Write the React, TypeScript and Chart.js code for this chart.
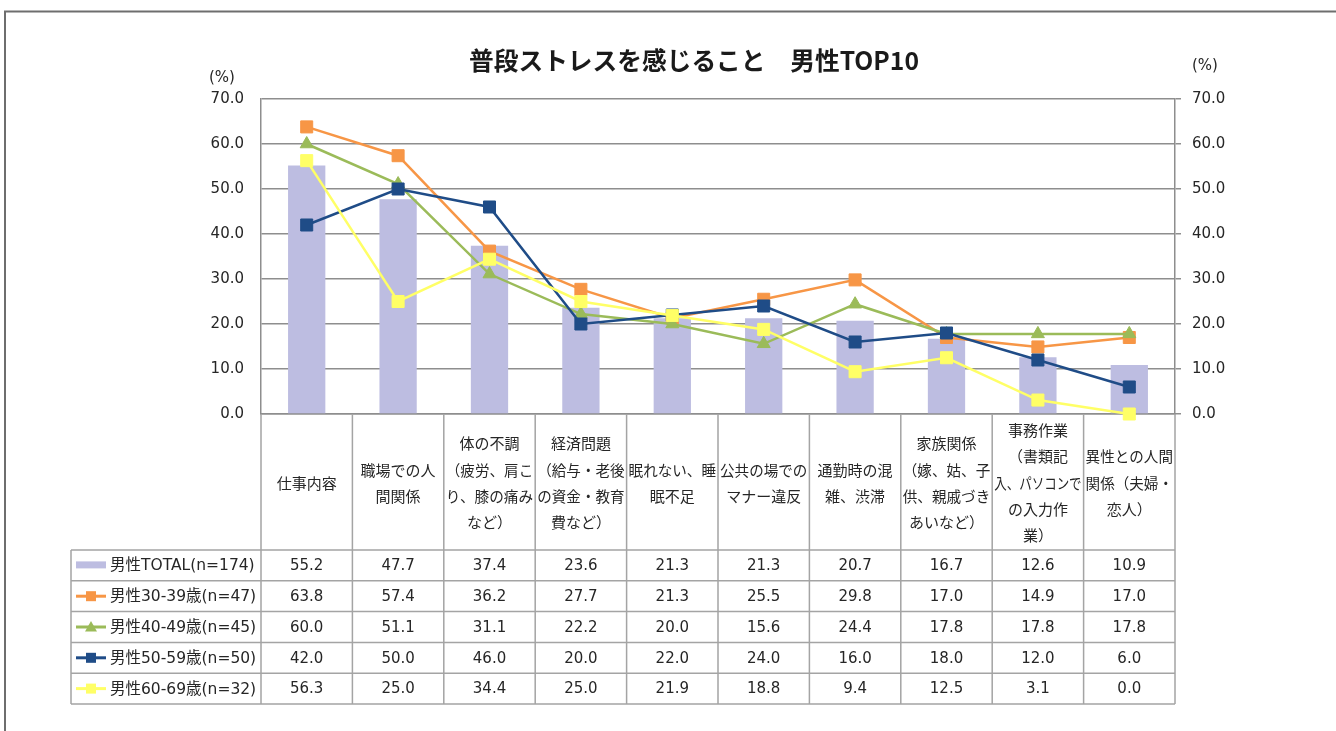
import React, { useEffect, useRef } from "react";
import { Chart, registerables } from "chart.js";

Chart.register(...registerables);

// ---------- data ----------
const titleText = "普段ストレスを感じること　男性TOP10";
const unitLabel = "(%)";

const categories: string[][] = [
  ["仕事内容"],
  ["職場での人", "間関係"],
  ["体の不調", "（疲労、肩こ", "り、膝の痛み", "など）"],
  ["経済問題", "（給与・老後", "の資金・教育", "費など）"],
  ["眠れない、睡", "眠不足"],
  ["公共の場での", "マナー違反"],
  ["通勤時の混", "雑、渋滞"],
  ["家族関係", "（嫁、姑、子", "供、親戚づき", "あいなど）"],
  ["事務作業", "（書類記", "入、パソコンで", "の入力作", "業）"],
  ["異性との人間", "関係（夫婦・", "恋人）"],
];

const seriesNames = [
  "男性TOTAL(n=174)",
  "男性30-39歳(n=47)",
  "男性40-49歳(n=45)",
  "男性50-59歳(n=50)",
  "男性60-69歳(n=32)",
];

const totalValues = [55.2, 47.7, 37.4, 23.6, 21.3, 21.3, 20.7, 16.7, 12.6, 10.9];
const age30Values = [63.8, 57.4, 36.2, 27.7, 21.3, 25.5, 29.8, 17.0, 14.9, 17.0];
const age40Values = [60.0, 51.1, 31.1, 22.2, 20.0, 15.6, 24.4, 17.8, 17.8, 17.8];
const age50Values = [42.0, 50.0, 46.0, 20.0, 22.0, 24.0, 16.0, 18.0, 12.0, 6.0];
const age60Values = [56.3, 25.0, 34.4, 25.0, 21.9, 18.8, 9.4, 12.5, 3.1, 0.0];

const yTickValues = [0, 10, 20, 30, 40, 50, 60, 70];

// ---------- styles ----------
const seriesColors = ["#BDBDE1", "#F79646", "#9BBB59", "#1F4C87", "#FFFF66"];
const seriesMarkers = ["bar", "rect", "triangle", "rect", "rect"];

const LATIN = "'DejaVu Sans', 'Noto Sans CJK JP', sans-serif";
const CJK = "'Noto Sans CJK JP', sans-serif";
const TEXT_COLOR = "#262626";
const GRID_COLOR = "#8e8e8e";
const TABLE_COLOR = "#a4a4a4";

const HEADER_H = 136;
const ROW_H = 30.8;
const TABLE_LEFT = 71;
const HEADER_LINE_H = 26.3;

const allValues = [totalValues, age30Values, age40Values, age50Values, age60Values];

function drawMarker(ctx: CanvasRenderingContext2D, kind: string, x: number, y: number, color: string) {
  ctx.fillStyle = color;
  if (kind === "triangle") {
    ctx.beginPath();
    ctx.moveTo(x, y - 6);
    ctx.lineTo(x + 6, y + 4.5);
    ctx.lineTo(x - 6, y + 4.5);
    ctx.closePath();
    ctx.fill();
  } else {
    ctx.fillRect(x - 5, y - 5, 10, 10);
  }
}

const decorPlugin = {
  id: "decor",
  beforeDraw(chart: any) {
    const ctx: CanvasRenderingContext2D = chart.ctx;
    const { left, right, top } = chart.chartArea;
    ctx.save();
    ctx.fillStyle = "#ffffff";
    ctx.fillRect(0, 0, chart.width, chart.height);
    // outer frame
    ctx.strokeStyle = "#6e6e6e";
    ctx.lineWidth = 2;
    ctx.beginPath();
    ctx.moveTo(4, 11.5);
    ctx.lineTo(chart.width, 11.5);
    ctx.moveTo(5, 11.5);
    ctx.lineTo(5, chart.height);
    ctx.stroke();
    // title
    ctx.fillStyle = "#1a1a1a";
    ctx.font = `bold 25px ${CJK}`;
    ctx.textAlign = "center";
    ctx.textBaseline = "middle";
    ctx.fillText(titleText, (left + right) / 2 - 24, 60, 450);
    // unit labels
    ctx.font = `15px ${LATIN}`;
    ctx.fillStyle = TEXT_COLOR;
    ctx.textAlign = "left";
    ctx.fillText(unitLabel, 209, top - 21);
    ctx.fillText(unitLabel, right + 17, top - 33);
    ctx.restore();
  },
  beforeDatasetsDraw(chart: any) {
    const ctx: CanvasRenderingContext2D = chart.ctx;
    const { left, right, bottom } = chart.chartArea;
    const xs = chart.scales.x;
    const n = categories.length;
    const colW = (right - left) / n;
    const headerBottom = bottom + HEADER_H;
    const rows = seriesNames.length;
    const tableBottom = headerBottom + rows * ROW_H;

    ctx.save();
    ctx.strokeStyle = TABLE_COLOR;
    ctx.lineWidth = 1.5;
    ctx.beginPath();
    for (let i = 0; i <= n; i++) {
      const x = i < n ? xs.getPixelForValue(i) - colW / 2 : xs.getPixelForValue(n - 1) + colW / 2;
      ctx.moveTo(x, bottom);
      ctx.lineTo(x, tableBottom);
    }
    ctx.moveTo(TABLE_LEFT, headerBottom);
    ctx.lineTo(TABLE_LEFT, tableBottom);
    for (let r = 0; r <= rows; r++) {
      const y = headerBottom + r * ROW_H;
      ctx.moveTo(TABLE_LEFT, y);
      ctx.lineTo(right, y);
    }
    ctx.stroke();

    // header labels
    ctx.fillStyle = TEXT_COLOR;
    ctx.textAlign = "center";
    ctx.textBaseline = "middle";
    ctx.font = `15px ${CJK}`;
    const headerMid = bottom + HEADER_H / 2 + 1;
    categories.forEach((lines, i) => {
      const cx = xs.getPixelForValue(i);
      lines.forEach((t, k) => {
        const y = headerMid + (k - (lines.length - 1) / 2) * HEADER_LINE_H;
        ctx.fillText(t, cx, y, colW - 4);
      });
    });

    // rows
    seriesNames.forEach((name, r) => {
      const cy = headerBottom + (r + 0.5) * ROW_H;
      const color = seriesColors[r];
      const kind = seriesMarkers[r];
      if (kind === "bar") {
        ctx.fillStyle = color;
        ctx.fillRect(76, cy - 4, 30, 7);
      } else {
        ctx.strokeStyle = color;
        ctx.lineWidth = 3;
        ctx.beginPath();
        ctx.moveTo(76, cy);
        ctx.lineTo(106, cy);
        ctx.stroke();
        drawMarker(ctx, kind, 91, cy, color);
      }
      ctx.fillStyle = TEXT_COLOR;
      ctx.textAlign = "left";
      ctx.font = `15.5px ${LATIN}`;
      ctx.fillText(name, 110, cy + 1, left - 114);
      ctx.textAlign = "center";
      ctx.font = `15px ${LATIN}`;
      allValues[r].forEach((v, i) => {
        ctx.fillText(v.toFixed(1), xs.getPixelForValue(i), cy + 1);
      });
    });
    ctx.restore();
  },
};

export default function App() {
  const canvasRef = useRef<HTMLCanvasElement | null>(null);

  useEffect(() => {
    if (!canvasRef.current) return;
    const lineDs = (idx: number, data: number[], order: number) => ({
      type: "line" as const,
      label: seriesNames[idx],
      data,
      borderColor: seriesColors[idx],
      backgroundColor: seriesColors[idx],
      borderWidth: 2.5,
      pointStyle: seriesMarkers[idx] as any,
      pointRadius: seriesMarkers[idx] === "triangle" ? 7.5 : 8.5,
      pointBorderWidth: 1,
      pointBorderColor: seriesColors[idx],
      pointBackgroundColor: seriesColors[idx],
      tension: 0,
      clip: false as any,
      order,
      yAxisID: "y",
    });

    const chart = new Chart(canvasRef.current, {
      type: "bar",
      data: {
        labels: categories,
        datasets: [
          {
            type: "bar",
            label: seriesNames[0],
            data: totalValues,
            backgroundColor: seriesColors[0],
            borderWidth: 0,
            barPercentage: 0.408,
            categoryPercentage: 1,
            order: 10,
            yAxisID: "y",
          } as any,
          lineDs(1, age30Values, 4),
          lineDs(2, age40Values, 3),
          lineDs(3, age50Values, 2),
          lineDs(4, age60Values, 1),
        ],
      },
      options: {
        responsive: false,
        animation: false,
        devicePixelRatio: 1,
        layout: { padding: { top: 99, left: 0, right: 0, bottom: 0 } },
        plugins: {
          legend: { display: false },
          tooltip: { enabled: false },
          title: { display: false },
        },
        scales: {
          x: {
            type: "category",
            ticks: { display: false },
            grid: { display: false },
            border: { display: true, color: GRID_COLOR, width: 1.5 },
            afterFit: (s: any) => {
              s.height = 317;
            },
          },
          y: {
            type: "linear",
            position: "left",
            min: 0,
            max: 70,
            afterBuildTicks: (s: any) => {
              s.ticks = yTickValues.map((v) => ({ value: v }));
            },
            ticks: {
              padding: 17,
              color: TEXT_COLOR,
              font: { family: LATIN, size: 15 },
              callback: (v: any) => Number(v).toFixed(1),
            },
            grid: { color: GRID_COLOR, lineWidth: 1.5, drawTicks: false },
            border: { display: true, color: GRID_COLOR, width: 1.5 },
            afterFit: (s: any) => {
              s.width = 261;
            },
          },
          y2: {
            type: "linear",
            position: "right",
            min: 0,
            max: 70,
            afterBuildTicks: (s: any) => {
              s.ticks = yTickValues.map((v) => ({ value: v }));
            },
            ticks: {
              padding: 11,
              color: TEXT_COLOR,
              font: { family: LATIN, size: 15 },
              callback: (v: any) => Number(v).toFixed(1),
            },
            grid: { drawOnChartArea: false, drawTicks: true, tickLength: 6, color: GRID_COLOR, lineWidth: 1.5 },
            border: { display: true, color: GRID_COLOR, width: 1.5 },
            afterFit: (s: any) => {
              s.width = 161;
            },
          },
        },
      } as any,
      plugins: [decorPlugin],
    });
    return () => chart.destroy();
  }, []);

  return (
    <div style={{ position: "absolute", left: 0, top: 0, width: 1336, height: 731, background: "#fff" }}>
      <canvas ref={canvasRef} width={1336} height={731} style={{ display: "block" }} />
    </div>
  );
}
